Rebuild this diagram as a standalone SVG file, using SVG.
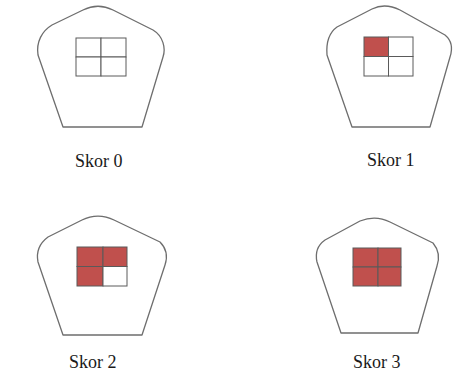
<svg xmlns="http://www.w3.org/2000/svg" width="457" height="375" viewBox="0 0 457 375">
<style>
.house{fill:#fff;stroke:#6e6e6e;stroke-width:1.3;stroke-linejoin:round}
.cell{stroke:#5a5a5a;stroke-width:1}
.off{fill:#fff}
.on{fill:#c0504d}
.lbl{font-family:"Liberation Serif","Times New Roman",serif;font-size:18px;fill:#1a1a1a}
</style>
<rect width="457" height="375" fill="#fff"/>
<g id="skor0">
<path class="house" d="M63,127 L142,127 L163,57 C166,48 163,36 153,30 L113,10 C103,5 93,5 83,10 L52,25 C42,31 36,42 38,55 Z"/>
<rect class="cell off" x="76" y="38" width="25" height="19"/>
<rect class="cell off" x="101" y="38" width="25" height="19"/>
<rect class="cell off" x="76" y="57" width="25" height="19"/>
<rect class="cell off" x="101" y="57" width="25" height="19"/>
<text class="lbl" x="75" y="167">Skor 0</text>
</g>
<g id="skor1">
<path class="house" d="M352,127 L430,127 L450,57 C453,48 451,40 445,35 L400,10 C390,5 380,5 372,9 L337,27 C330,32 326,42 327,55 Z"/>
<rect class="cell on" x="364" y="37" width="24.5" height="19.5"/>
<rect class="cell off" x="388.5" y="37" width="24.5" height="19.5"/>
<rect class="cell off" x="364" y="56.5" width="24.5" height="19.5"/>
<rect class="cell off" x="388.5" y="56.5" width="24.5" height="19.5"/>
<text class="lbl" x="367" y="166">Skor 1</text>
</g>
<g id="skor2">
<path class="house" d="M63,335 L142,335 L165,265 C168,256 166,248 160,242 L114,220 C104,215 92,215 82,220 L48,237 C40,243 36,252 38,262 Z"/>
<rect class="cell on" x="77" y="247" width="26" height="19.5"/>
<rect class="cell on" x="103" y="247" width="24" height="19.5"/>
<rect class="cell on" x="77" y="266.5" width="26" height="19.5"/>
<rect class="cell off" x="103" y="266.5" width="24" height="19.5"/>
<text class="lbl" x="69" y="368">Skor 2</text>
</g>
<g id="skor3">
<path class="house" d="M341,333 L418,333 L437,266 C440,257 438,249 433,243 L390,222 C380,217 370,217 360,221 L325,240 C318,245 315,253 317,262 Z"/>
<rect class="cell on" x="353" y="248" width="25" height="19"/>
<rect class="cell on" x="378" y="248" width="23" height="19"/>
<rect class="cell on" x="353" y="267" width="25" height="19"/>
<rect class="cell on" x="378" y="267" width="23" height="19"/>
<text class="lbl" x="353" y="368">Skor 3</text>
</g>
<g id="connectors"/>
</svg>
